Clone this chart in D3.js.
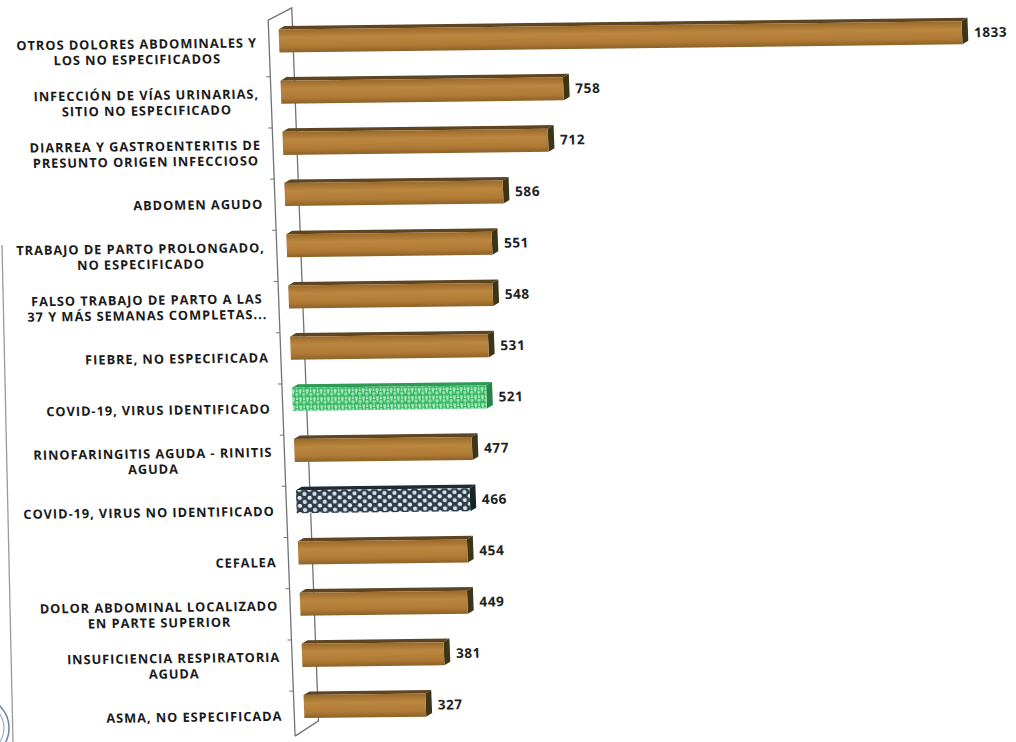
<!DOCTYPE html>
<html><head><meta charset="utf-8">
<script src="https://cdn.jsdelivr.net/npm/d3@7"></script>
<style>
html,body{margin:0;padding:0;background:#fff;}
svg{display:block;}
</style>
</head><body>
<svg id="chart" width="1016" height="742"></svg>
<script>
const categories = [
  "OTROS DOLORES ABDOMINALES Y\nLOS NO ESPECIFICADOS",
  "INFECCIÓN DE VÍAS URINARIAS,\nSITIO NO ESPECIFICADO",
  "DIARREA Y GASTROENTERITIS DE\nPRESUNTO ORIGEN INFECCIOSO",
  "ABDOMEN AGUDO",
  "TRABAJO DE PARTO PROLONGADO,\nNO ESPECIFICADO",
  "FALSO TRABAJO DE PARTO A LAS\n37 Y MÁS SEMANAS COMPLETAS...",
  "FIEBRE, NO ESPECIFICADA",
  "COVID-19, VIRUS IDENTIFICADO",
  "RINOFARINGITIS AGUDA - RINITIS\nAGUDA",
  "COVID-19, VIRUS NO IDENTIFICADO",
  "CEFALEA",
  "DOLOR ABDOMINAL LOCALIZADO\nEN PARTE SUPERIOR",
  "INSUFICIENCIA RESPIRATORIA\nAGUDA",
  "ASMA, NO ESPECIFICADA"
];
const values = [1833, 758, 712, 586, 551, 548, 531, 521, 477, 466, 454, 449, 381, 327];
const fills = ["brown","brown","brown","brown","brown","brown","brown","green","brown","navy","brown","brown","brown","brown"];

const svg = d3.select("#chart");
const defs = svg.append("defs");

const g1 = defs.append("linearGradient").attr("id","brownFront").attr("x1",0).attr("y1",0).attr("x2",0).attr("y2",1);
g1.append("stop").attr("offset","0%").attr("stop-color","#9a6a2a");
g1.append("stop").attr("offset","35%").attr("stop-color","#bb8640");
g1.append("stop").attr("offset","75%").attr("stop-color","#b07a34");
g1.append("stop").attr("offset","100%").attr("stop-color","#8c6128");

const pg = defs.append("pattern").attr("id","greenPat").attr("patternUnits","userSpaceOnUse").attr("width",7).attr("height",8);
pg.append("rect").attr("width",7).attr("height",8).attr("fill","#eefaf1");
pg.append("circle").attr("cx",3.5).attr("cy",2).attr("r",3.1).attr("fill","#35b862");
pg.append("circle").attr("cx",3.5).attr("cy",2.6).attr("r",1.6).attr("fill","#9fe4b5");
pg.append("circle").attr("cx",0).attr("cy",6).attr("r",3.1).attr("fill","#35b862");
pg.append("circle").attr("cx",7).attr("cy",6).attr("r",3.1).attr("fill","#35b862");
pg.append("circle").attr("cx",0).attr("cy",6.6).attr("r",1.6).attr("fill","#9fe4b5");
pg.append("circle").attr("cx",7).attr("cy",6.6).attr("r",1.6).attr("fill","#9fe4b5");

const pn = defs.append("pattern").attr("id","navyPat").attr("patternUnits","userSpaceOnUse").attr("width",10).attr("height",8);
pn.append("rect").attr("width",10).attr("height",8).attr("fill","#2e3d48");
pn.append("circle").attr("cx",2.5).attr("cy",2).attr("r",2.1).attr("fill","#e8f0f4");
pn.append("circle").attr("cx",7.5).attr("cy",6).attr("r",2.1).attr("fill","#d6e4ea");

// skew like the scanned page
const cSkew = 0.0375, bSkew = -0.012, x0 = 278, y0 = 41;
const root = svg.append("g")
  .attr("transform", `matrix(1,${bSkew},${cSkew},1,${-cSkew*y0},${-bSkew*x0})`);

const y = d3.scaleBand().domain(d3.range(categories.length))
  .range([15.4, 732.2]).paddingInner(0.55).paddingOuter(0.275);
const x = d3.scaleLinear().domain([0, 1833]).range([279, 962]);

const depthX = 6, depthY = -3.5;
const frontX = 269, backX = frontX + 24, backDY = -12;

const wall = root.append("g").attr("fill","none").attr("stroke","#6f7478").attr("stroke-width",1.3);
const topY = 20, botY = 736;
wall.append("path").attr("d", `M${frontX},${botY} L${frontX},${topY} L${backX},${topY+backDY} L${backX},${botY+backDY-3} L${frontX},${botY}`);
wall.selectAll("line.tk").data(d3.range(1, categories.length)).join("line")
  .attr("x1", frontX-4).attr("x2", frontX)
  .attr("y1", d => y(d) - y.step()*y.paddingInner()/2 + 10)
  .attr("y2", d => y(d) - y.step()*y.paddingInner()/2 + 10)
  .attr("stroke-width",1);

const bars = root.append("g").selectAll("g.bar").data(values).join("g");
bars.each(function(v, i) {
  const g = d3.select(this);
  const x1 = x(0), x2 = x(v), yt = y(i), h = y.bandwidth();
  const kind = fills[i];
  const topCol = kind === "brown" ? "#5e4420" : kind === "green" ? "#2e9a55" : "#1f2b33";
  const sideCol = kind === "brown" ? "#3d3519" : kind === "green" ? "#27834a" : "#1a242b";
  g.append("path").attr("d", `M${x1},${yt} L${x1+depthX},${yt+depthY} L${x2+depthX},${yt+depthY} L${x2},${yt} Z`).attr("fill", topCol);
  g.append("path").attr("d", `M${x2},${yt} L${x2+depthX},${yt+depthY} L${x2+depthX},${yt+h+depthY} L${x2},${yt+h} Z`).attr("fill", sideCol);
  g.append("rect").attr("x", x1).attr("y", yt).attr("width", x2 - x1).attr("height", h)
    .attr("fill", kind === "brown" ? "url(#brownFront)" : kind === "green" ? "url(#greenPat)" : "url(#navyPat)");
  g.append("text").attr("x", x2 + depthX + 6).attr("y", yt + h/2 + 4.5)
    .attr("font-family","'Open Sans', sans-serif").attr("font-weight",700).attr("font-size",13.5)
    .attr("letter-spacing",0.6)
    .attr("fill","#222").text(v);
});

const labelRight = 257, lineH = 15.5;
const labels = root.append("g").selectAll("text.cat").data(categories).join("text")
  .attr("font-family","'Open Sans', sans-serif").attr("font-weight",700).attr("font-size",12.8)
  .attr("letter-spacing",0.95)
  .attr("fill","#1a1a1a").attr("text-anchor","middle");
labels.each(function(d, i) {
  const t = d3.select(this);
  const lines = d.split("\n");
  const cy = y(i) + y.bandwidth()/2 + 9.5;
  const spans = lines.map((ln, k) => t.append("tspan").attr("x", 0)
    .attr("y", cy + (k - (lines.length-1)/2) * lineH + 4.4).text(ln));
  const maxW = d3.max(spans, s => s.node().getComputedTextLength());
  const cx = labelRight - maxW/2;
  spans.forEach(s => s.attr("x", cx));
});

svg.append("line").attr("x1",2).attr("y1",245).attr("x2",13).attr("y2",742)
  .attr("stroke","#9a9a9a").attr("stroke-width",1.3);
svg.append("circle").attr("cx",-22).attr("cy",728).attr("r",31)
  .attr("fill","none").attr("stroke","#6c7fb5").attr("stroke-width",1.5);
svg.append("circle").attr("cx",-22).attr("cy",728).attr("r",26)
  .attr("fill","none").attr("stroke","#8a9ac6").attr("stroke-width",1);
</script>
</body></html>
